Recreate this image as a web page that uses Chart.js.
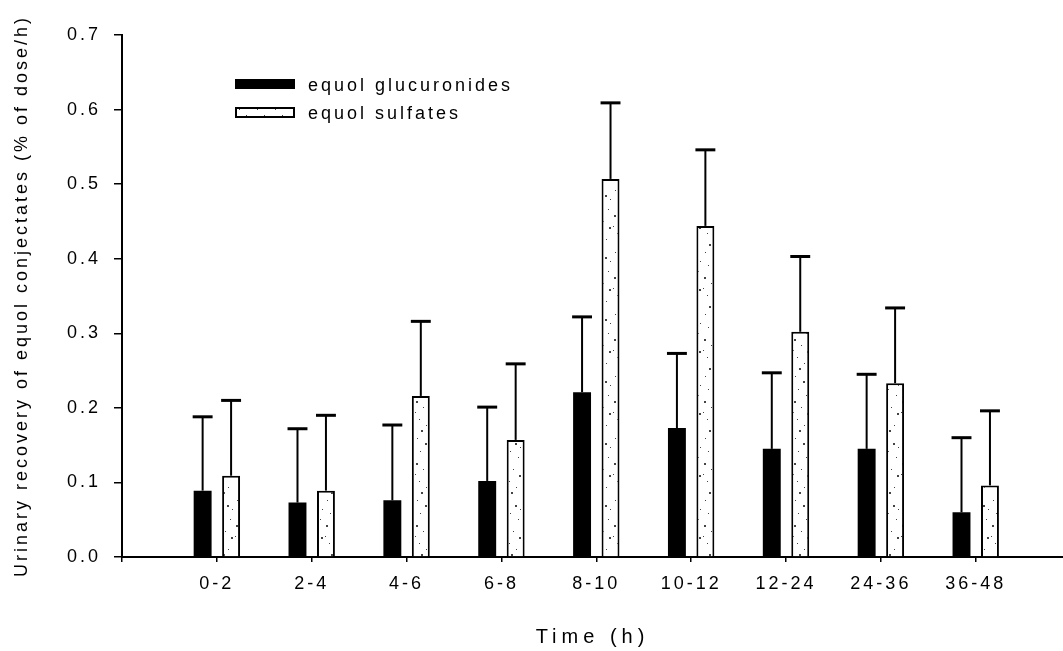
<!DOCTYPE html>
<html>
<head>
<meta charset="utf-8">
<script src="https://cdn.jsdelivr.net/npm/chart.js@4.4.1/dist/chart.umd.min.js"></script>
<style>
    body { margin: 0; background: #fff; }
    #wrap { width: 1063px; height: 651px; position: relative; }
</style>
</head>
<body>
<div id="wrap"><canvas id="equolChart"></canvas></div>
<script>
// Data
const timeLabels = ["0-2", "2-4", "4-6", "6-8", "8-10", "10-12", "12-24", "24-36", "36-48"];
const glucuronides = [0.089, 0.073, 0.076, 0.102, 0.221, 0.173, 0.145, 0.145, 0.060];
const glucuronidesSD = [0.099, 0.099, 0.101, 0.099, 0.101, 0.100, 0.102, 0.100, 0.100];
const sulfates = [0.109, 0.089, 0.216, 0.157, 0.507, 0.444, 0.302, 0.233, 0.096];
const sulfatesSD = [0.101, 0.101, 0.100, 0.102, 0.102, 0.102, 0.101, 0.101, 0.100];
const seriesNames = ["equol glucuronides", "equol sulfates"];

const FONT = 'Arial, "Liberation Sans", Helvetica, sans-serif';
const SPACING = "3px";
Chart.defaults.font.family = FONT;
Chart.defaults.color = "#000";

// speckled fill for the white bars
function speckle() {
    const c = document.createElement("canvas");
    c.width = 18; c.height = 62;
    const g = c.getContext("2d");
    g.fillStyle = "#fff";
    g.fillRect(0, 0, 18, 62);
    g.fillStyle = "#444";
    const dots = [[3, 4, 1], [11, 9, 2], [6, 17, 1], [14, 23, 1], [2, 29, 2], [9, 35, 1], [15, 41, 2], [5, 47, 1], [12, 53, 1], [7, 58, 2], [16, 13, 1], [1, 40, 1]];
    dots.forEach(([x, y, s]) => g.fillRect(x, y, s, s));
    return g.createPattern(c, "repeat");
}

const errors = [glucuronidesSD, sulfatesSD];

const spacingPlugin = {
    id: "spacing",
    beforeUpdate(chart) { chart.ctx.letterSpacing = SPACING; },
    beforeDraw(chart) {
        chart.ctx.letterSpacing = SPACING;
        const xs = chart.scales.x;
        if (xs && !xs._patched) {
            const orig = xs.drawTitle;
            xs.drawTitle = function () {
                const ctx = this.ctx;
                ctx.letterSpacing = "5px";
                orig.apply(this, arguments);
                ctx.letterSpacing = SPACING;
            };
            xs._patched = true;
        }
    }
};

const errorBars = {
    id: "errorBars",
    afterDatasetsDraw(chart) {
        const ctx = chart.ctx;
        const y = chart.scales.y;
        ctx.save();
        ctx.strokeStyle = "#000";
        chart.data.datasets.forEach((ds, i) => {
            const meta = chart.getDatasetMeta(i);
            meta.data.forEach((bar, j) => {
                const v = ds.data[j].y;
                const top = y.getPixelForValue(v + errors[i][j]);
                ctx.lineWidth = 2;
                ctx.beginPath();
                ctx.moveTo(bar.x, bar.y);
                ctx.lineTo(bar.x, top);
                ctx.stroke();
                ctx.lineWidth = 3;
                ctx.beginPath();
                ctx.moveTo(bar.x - bar.width / 2 - 1, top);
                ctx.lineTo(bar.x + bar.width / 2 + 1, top);
                ctx.stroke();
            });
        });
        ctx.restore();
    }
};

const boxLegend = {
    id: "boxLegend",
    afterDraw(chart) {
        const ctx = chart.ctx;
        const a = chart.chartArea;
        const x0 = a.left + 113, y0 = a.top + 44;
        ctx.save();
        chart.data.datasets.forEach((ds, i) => {
            const y = y0 + i * 28;
            ctx.fillStyle = ds.backgroundColor;
            ctx.fillRect(x0, y, 60, 10);
            if (ds.borderWidth) {
                ctx.lineWidth = 2;
                ctx.strokeStyle = "#000";
                ctx.strokeRect(x0 + 1, y + 1, 58, 9);
            }
            ctx.fillStyle = "#000";
            ctx.font = "18px " + FONT;
            ctx.textBaseline = "middle";
            ctx.textAlign = "left";
            ctx.fillText(ds.label, x0 + 73, y + 7);
        });
        ctx.restore();
    }
};

new Chart(document.getElementById("equolChart"), {
    type: "bar",
    data: {
        datasets: [
            {
                label: seriesNames[0],
                data: glucuronides.map((v, i) => ({ x: i + 1, y: v })),
                backgroundColor: "#000",
                borderWidth: 0
            },
            {
                label: seriesNames[1],
                data: sulfates.map((v, i) => ({ x: i + 1, y: v })),
                backgroundColor: speckle(),
                borderColor: "#000",
                borderWidth: 2
            }
        ]
    },
    options: {
        responsive: true,
        maintainAspectRatio: false,
        animation: false,
        categoryPercentage: 0.6,
        barPercentage: 0.63,
        layout: { padding: { top: 35, right: 0, bottom: 0, left: 0 } },
        plugins: {
            legend: { display: false },
            tooltip: { enabled: false }
        },
        scales: {
            x: {
                type: "linear",
                min: 0,
                max: 9.92,
                offset: false,
                afterFit: (s) => { s.height = 94; },
                grid: { offset: false, drawOnChartArea: false, color: "#000", lineWidth: 1.5, tickLength: 5 },
                border: { color: "#000", width: 2 },
                ticks: {
                    stepSize: 1,
                    includeBounds: false,
                    autoSkip: false,
                    maxRotation: 0,
                    padding: 11,
                    font: { size: 18 },
                    callback: (v) => timeLabels[v - 1] || ""
                },
                title: {
                    display: true,
                    text: "Time (h)",
                    font: { size: 20 },
                    padding: { top: 0, bottom: 2 }
                }
            },
            y: {
                min: 0,
                max: 0.7,
                afterFit: (s) => { s.width = 122; },
                grid: { drawOnChartArea: false, color: "#000", lineWidth: 1.5, tickLength: 8 },
                border: { color: "#000", width: 2 },
                ticks: {
                    stepSize: 0.1,
                    padding: 13,
                    font: { size: 18 },
                    callback: (v) => v.toFixed(1)
                },
                title: {
                    display: true,
                    text: "Urinary recovery of equol conjectates (% of dose/h)",
                    font: { size: 18 },
                    padding: { top: 11, bottom: 0 }
                }
            }
        }
    },
    plugins: [spacingPlugin, errorBars, boxLegend]
});
</script>
</body>
</html>
